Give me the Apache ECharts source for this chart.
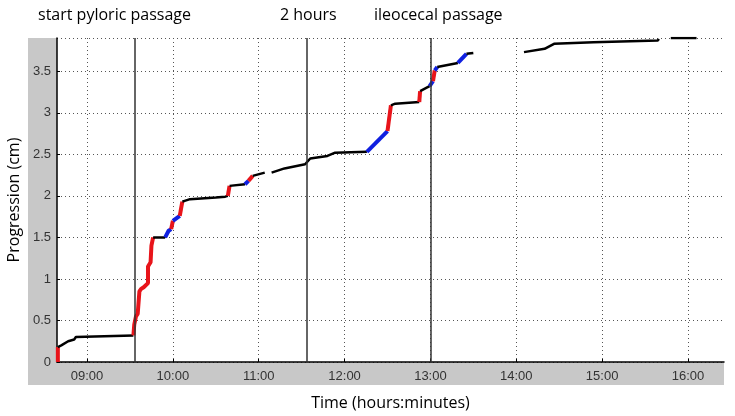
<!DOCTYPE html>
<html><head><meta charset="utf-8">
<script src="https://cdn.jsdelivr.net/npm/echarts@6/dist/echarts.min.js"></script>
<style>html,body{margin:0;padding:0;background:#fff}#c{width:735px;height:416px}</style>
</head><body><div id="c"></div>
<script>
// time in decimal hours, progression in cm; null value = gap
const times  = [8.66,8.66,8.70,8.78,8.85,8.87,9.2,9.54,9.55,9.57,9.59,9.61,9.63,9.66,9.71,9.71,9.74,9.75,9.77,9.91,9.95,9.98,10.0,10.08,10.11,10.2,10.5,10.61,10.64,10.66,10.84,10.88,10.93,11.07,11.10,11.15,11.3,11.54,11.6,11.8,11.89,12.26,12.5,12.54,12.59,12.87,12.88,12.99,13.03,13.05,13.08,13.32,13.42,13.5,13.8,14.09,14.33,14.44,14.9,15.65,15.66,15.75,15.8,16.1];
const values = [0,0.18,0.2,0.25,0.27,0.3,0.31,0.32,0.45,0.55,0.58,0.85,0.88,0.9,0.95,1.15,1.2,1.4,1.5,1.5,1.58,1.6,1.7,1.76,1.93,1.96,1.98,1.99,2.0,2.12,2.14,2.18,2.24,2.28,null,2.28,2.33,2.38,2.45,2.48,2.52,2.53,2.78,3.09,3.11,3.13,3.26,3.32,3.38,3.51,3.55,3.6,3.71,3.72,null,3.73,3.77,3.83,3.85,3.87,3.89,null,3.9,3.9];
// colour code of the segment starting at each point: k black, r red, b blue
const segColor = ['r','k','k','k','k','k','k','r','r','r','r','r','r','r','r','r','r','r','k','b','b','r','b','r','k','k','k','k','r','k','b','r','k','k','k','k','k','k','k','k','k','b','r','k','k','r','k','b','r','b','k','b','k','k','k','k','k','k','k','k','k','k','k','k'];
const hourTicks = [9,10,11,12,13,14,15,16];
const events = [{t:9.56,label:'start pyloric passage'},{t:11.56,label:'2 hours'},{t:13.0,label:'ileocecal passage'}];

const colMap = {k:'#000000', r:'#e8141a', b:'#1020e0'};
const widthMap = {k:2.5, r:4, b:4};
const series = [];
for (let i=0;i<times.length-1;i++){
  if (values[i]==null || values[i+1]==null) continue;
  const c = segColor[i];
  const last = series[series.length-1];
  if (last && last._c===c && last._end===i){ last.data.push([times[i+1],values[i+1]]); last._end=i+1; }
  else series.push({_c:c,_end:i+1,type:'line',symbol:'none',silent:true,animation:false,
    lineStyle:{color:colMap[c],width:widthMap[c]},data:[[times[i],values[i]],[times[i+1],values[i+1]]]});
}
series.forEach(s=>{delete s._c; delete s._end;});
series.push({type:'line',data:[],markLine:{symbol:'none',silent:true,animation:false,label:{show:false},
  lineStyle:{color:'#333',width:1.5,type:'solid'},data:events.map(e=>({xAxis:e.t}))}});

const fmt = v=>{const h=Math.floor(v+1e-6);const m=Math.round((v-h)*60);return String(h).padStart(2,'0')+':'+String(m).padStart(2,'0');};
const chart = echarts.init(document.getElementById('c'));
const tf = '16px "Open Sans", sans-serif';
chart.setOption({
  animation:false,
  graphic:[
    {type:'rect',z:-10,shape:{x:28,y:38,width:696,height:347},style:{fill:'#c8c8c8'}},
    {type:'text',left:38,top:7,style:{text:events[0].label,font:tf,fill:'#000'}},
    {type:'text',left:280,top:7,style:{text:events[1].label,font:tf,fill:'#000'}},
    {type:'text',left:374,top:7,style:{text:events[2].label,font:tf,fill:'#000'}}
  ],
  grid:{left:57,top:38,right:11,bottom:54,show:true,backgroundColor:'#fff',borderWidth:0,containLabel:false,outerBoundsMode:'none'},
  xAxis:{type:'value',min:8.65,max:16.42,name:'Time (hours:minutes)',nameLocation:'middle',nameGap:33,
    nameTextStyle:{fontSize:16,color:'#000',fontFamily:'Open Sans'},
    axisLine:{lineStyle:{color:'#000',width:1.5}},
    axisTick:{customValues:hourTicks,length:3,inside:true,lineStyle:{color:'#000'}},
    axisLabel:{customValues:hourTicks,formatter:fmt,fontSize:13,color:'#333',margin:8},
    splitLine:{show:true,lineStyle:{color:'#555',type:[1,3],width:1}}},
  yAxis:{type:'value',min:0,max:3.9,interval:0.5,name:'Progression (cm)',nameLocation:'middle',nameGap:34,
    nameTextStyle:{fontSize:16,color:'#000',fontFamily:'Open Sans'},
    axisLine:{show:true,lineStyle:{color:'#000',width:1.5}},
    axisTick:{show:true,inside:true,length:3,lineStyle:{color:'#000'}},
    axisLabel:{fontSize:13,color:'#333',margin:6,showMaxLabel:false},
    splitLine:{show:true,lineStyle:{color:'#555',type:[1,3],width:1}}},
  series
});
</script></body></html>
